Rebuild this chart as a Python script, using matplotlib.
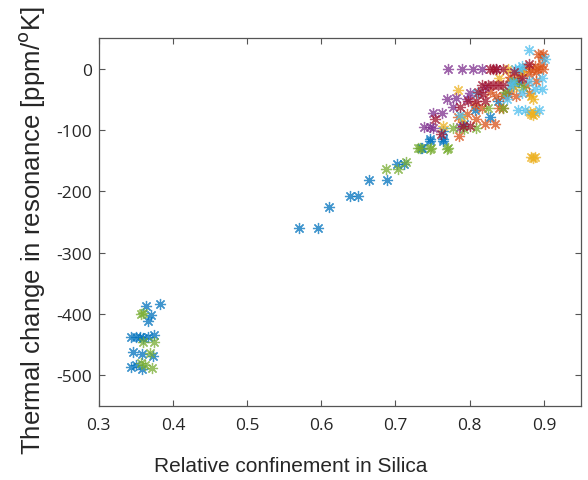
import matplotlib
matplotlib.use("Agg")
import matplotlib.pyplot as plt

# ---- data (x: relative confinement, y: ppm/K) ----
blue_x = [0.363, 0.382, 0.371, 0.366, 0.344, 0.350, 0.355, 0.360, 0.366, 0.375, 0.346, 0.358, 0.373, 0.344, 0.358, 0.350,
          0.5695, 0.596, 0.611, 0.638, 0.650, 0.664, 0.688, 0.702, 0.712, 0.735, 0.746, 0.764,
          0.736, 0.746, 0.764, 0.764, 0.793, 0.807, 0.827, 0.838, 0.858, 0.867, 0.858, 0.850]
blue_y = [-387, -384, -402, -412, -438, -438, -437, -439, -437, -435, -462, -466, -469, -487, -490, -483,
          -260, -260, -225, -208, -208, -181, -181, -155, -155, -129, -118, -118,
          -130, -114, -114, -101, -90, -68, -79, -52, -22, -22, -28, -40]

green_x = [0.357, 0.360, 0.359, 0.375, 0.369, 0.357, 0.372, 0.362,
           0.687, 0.704, 0.714, 0.730, 0.746, 0.769,
           0.733, 0.748, 0.771, 0.778, 0.793, 0.809, 0.825, 0.847, 0.872, 0.845, 0.860]
green_y = [-400, -398, -446, -446, -464, -480, -488, -484,
           -163, -163, -152, -129, -131, -131,
           -130, -130, -130, -97, -98, -97, -65, -38, -30, -65, -20]

purple_x = [0.771, 0.790, 0.805, 0.816, 0.836, 0.769, 0.782, 0.796, 0.778, 0.751, 0.763,
            0.739, 0.746, 0.751, 0.787, 0.800, 0.820]
purple_y = [0, 0, 0, 0, 0, -49, -48, -49, -63, -72, -72,
            -95, -95, -97, -95, -40, -30]

darkred_x = [0.827, 0.831, 0.845, 0.836, 0.816, 0.825, 0.831, 0.838, 0.845, 0.811, 0.818,
             0.798, 0.809, 0.820, 0.787, 0.753, 0.762, 0.791, 0.800, 0.880, 0.860, 0.870]
darkred_y = [0, 0, 0, 0, -26, -26, -26, -26, -27, -38, -41,
             -52, -52, -52, -63, -82, -106, -93, -93, 8, -5, -15]

orange_x = [0.892, 0.899, 0.897, 0.876, 0.881, 0.888, 0.892, 0.897, 0.899, 0.870, 0.880, 0.890,
            0.854, 0.876, 0.827, 0.836, 0.845, 0.852, 0.863, 0.807, 0.816, 0.840, 0.845, 0.796,
            0.809, 0.784, 0.820, 0.834, 0.786, 0.855, 0.865, 0.890, 0.880]
orange_y = [24, 24, 19, 3, 0, 5, 0, 8, 0, -5, -8, -5,
            -14, -27, -38, -44, -44, -41, -44, -60, -65, -65, -65, -74,
            -82, -79, -90, -90, -110, -20, -10, -20, -40]

yellow_x = [0.852, 0.840, 0.784, 0.883, 0.885, 0.881, 0.883, 0.885, 0.888, 0.764, 0.883, 0.888,
            0.885, 0.790, 0.870, 0.860]
yellow_y = [0, -16, -35, -44, -49, -71, -74, -75, -72, -94, -144, -144,
            -146, -80, -5, -30]

lightblue_x = [0.880, 0.901, 0.861, 0.867, 0.870, 0.897, 0.897, 0.858, 0.854, 0.888, 0.865, 0.874,
               0.894, 0.787, 0.870, 0.880, 0.850, 0.810]
lightblue_y = [30, 15, 0, 0, 5, -16, -33, -22, -27, -33, -67, -67,
               -67, -76, -40, -20, -50, -40]

series = [
    (blue_x, blue_y, "#0072BD"),
    (orange_x, orange_y, "#D95319"),
    (yellow_x, yellow_y, "#EDB120"),
    (purple_x, purple_y, "#7E2F8E"),
    (green_x, green_y, "#77AC30"),
    (lightblue_x, lightblue_y, "#4DBEEE"),
    (darkred_x, darkred_y, "#A2142F"),
]

xticks = [0.3, 0.4, 0.5, 0.6, 0.7, 0.8, 0.9]
yticks = [0, -100, -200, -300, -400, -500]

fig = plt.figure(figsize=(5.88, 4.81), dpi=100)
ax = fig.add_axes([0.168, 0.154, 0.820, 0.765])

asterisk = (8, 2, 0)
for xs, ys, c in series:
    ax.plot(xs, ys, linestyle="none", marker=asterisk, markersize=8,
            markeredgewidth=0.9, color=c, alpha=0.75)

ax.set_xlim(0.3, 0.95)
ax.set_ylim(-550, 50)
ax.set_xticks(xticks)
ax.set_xticklabels([f"{t:.1f}" for t in xticks])
ax.set_yticks(yticks)
ax.set_yticklabels([str(t) for t in yticks])

axis_col = "#262626"
for s in ax.spines.values():
    s.set_color("#555555")
    s.set_linewidth(0.9)
ax.tick_params(direction="in", length=4, width=0.8, color="#555555",
               top=True, right=True, labelsize=12.5, labelcolor=axis_col)
ax.tick_params(axis="x", pad=8)
ax.tick_params(axis="y", pad=5)
for lab in ax.get_xticklabels() + ax.get_yticklabels():
    lab.set_family("Open Sans")

ax.set_xlabel("Relative confinement in Silica", fontsize=15, family="Liberation Sans",
              color=axis_col)
ax.xaxis.set_label_coords(0.398, -0.135)
ax.set_ylabel("Thermal change in resonance [ppm/$^{\\mathrm{o}}$K]", fontsize=18.5,
              family="Liberation Sans", color=axis_col)
ax.yaxis.set_label_coords(-0.108, 0.478)

fig.savefig("out.png", dpi=100)
